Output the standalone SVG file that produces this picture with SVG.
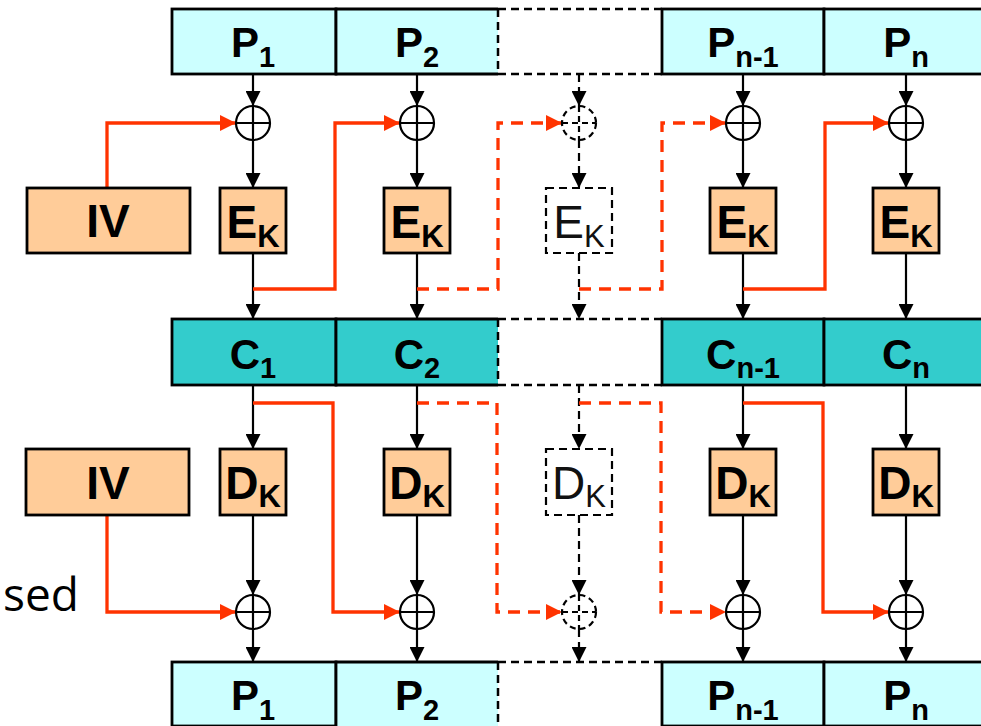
<svg xmlns="http://www.w3.org/2000/svg" width="981" height="726" viewBox="0 0 981 726">
<style>
.p{fill:#CCFFFF;stroke:#000;stroke-width:2.8}
.pf{fill:#CCFFFF;stroke:none}
.c{fill:#33CCCC;stroke:#000;stroke-width:2.8}
.cf{fill:#33CCCC;stroke:none}
.e{fill:#FFCC99;stroke:#000;stroke-width:2.8}
.ed{fill:none;stroke:#000;stroke-width:2.2;stroke-dasharray:8 5}
.edge{fill:none;stroke:#000;stroke-width:2.8}
.edged{fill:none;stroke:#000;stroke-width:2.5;stroke-dasharray:8 5}
.ln{fill:none;stroke:#000;stroke-width:2.2;marker-end:url(#ab)}
.dl{fill:none;stroke:#000;stroke-width:2.2;stroke-dasharray:8 5;marker-end:url(#ab)}
.r{fill:none;stroke:#FF3300;stroke-width:3.3;marker-end:url(#ar)}
.rd{fill:none;stroke:#FF3300;stroke-width:3.3;stroke-dasharray:12 8;marker-end:url(#ar)}
.x{fill:#fff;stroke:#000;stroke-width:2.2}
.xl{fill:none;stroke:#000;stroke-width:2.2}
.xd{fill:#fff;stroke:#000;stroke-width:2.2;stroke-dasharray:6 4}
.t{font-family:"Liberation Sans",Arial,sans-serif;font-weight:bold;text-anchor:middle;fill:#000}
.tn{font-family:"Liberation Sans",Arial,sans-serif;font-weight:normal;text-anchor:middle;fill:#111}
.big{font-size:42px}
.blk{font-size:46px}
</style>
<defs>
<marker id="ab" markerUnits="userSpaceOnUse" markerWidth="15" markerHeight="15" viewBox="0 0 15 15" refX="15" refY="7.5" orient="auto"><path d="M0,0 L15,7.5 L0,15 z" fill="#000"/></marker>
<marker id="ar" markerUnits="userSpaceOnUse" markerWidth="16" markerHeight="16" viewBox="0 0 16 16" refX="16" refY="8" orient="auto"><path d="M0,0 L16,8 L0,16 z" fill="#FF3300"/></marker>
</defs>

<g id="connectors">
<!-- black verticals, top half -->
<path class="ln" d="M253,74 V106"/><path class="ln" d="M417,74 V106"/><path class="ln" d="M743,74 V106"/><path class="ln" d="M906,74 V106"/>
<path class="ln" d="M253,140 V188"/><path class="ln" d="M417,140 V188"/><path class="ln" d="M743,140 V188"/><path class="ln" d="M906,140 V188"/>
<path class="ln" d="M253,253 V319"/><path class="ln" d="M417,253 V319"/><path class="ln" d="M743,253 V319"/><path class="ln" d="M906,253 V319"/>
<path class="dl" d="M579,74 V106"/>
<path class="dl" d="M579,140 V188"/>
<path class="dl" d="M579,253 V319"/>
<!-- black verticals, bottom half -->
<path class="ln" d="M253,385 V449"/><path class="ln" d="M417,385 V449"/><path class="ln" d="M743,385 V449"/><path class="ln" d="M906,385 V449"/>
<path class="ln" d="M253,515 V595"/><path class="ln" d="M417,515 V595"/><path class="ln" d="M743,515 V595"/><path class="ln" d="M906,515 V595"/>
<path class="ln" d="M253,629 V662"/><path class="ln" d="M417,629 V662"/><path class="ln" d="M743,629 V662"/><path class="ln" d="M906,629 V662"/>
<path class="dl" d="M579,385 V449"/>
<path class="dl" d="M579,515 V595"/>
<path class="dl" d="M579,629 V662"/>
<!-- red, top half -->
<path class="r" d="M107,188 V123 H236"/>
<path class="r" d="M253,289 H335 V123 H400"/>
<path class="rd" d="M417,289 H498 V123 H562"/>
<path class="rd" d="M579,289 H662 V123 H726"/>
<path class="r" d="M743,289 H825 V123 H889"/>
<!-- red, bottom half -->
<path class="r" d="M107,515 V612 H236"/>
<path class="r" d="M253,403 H333 V612 H400"/>
<path class="rd" d="M417,403 H497 V612 H562"/>
<path class="rd" d="M579,403 H661 V612 H726"/>
<path class="r" d="M743,403 H823 V612 H889"/>
</g>

<!-- top plaintext row -->
<g id="P1_top"><rect class="p" x="172" y="9" width="164" height="65"/><text class="t big" x="253" y="57">P<tspan font-size="29" dy="10">1</tspan></text></g>
<g id="P2_top"><rect class="pf" x="336" y="9" width="162" height="65"/><path class="edge" d="M498,9 H336 V74 H498"/><path class="edged" d="M498,9 V74"/><text class="t big" x="417" y="57">P<tspan font-size="29" dy="10">2</tspan></text></g>
<g id="gap_top"><path class="edged" d="M498,9 H662 M498,74 H662"/></g>
<g id="Pn1_top"><rect class="p" x="662" y="9" width="162" height="65"/><text class="t big" x="743" y="57">P<tspan font-size="29" dy="10">n-1</tspan></text></g>
<g id="Pn_top"><rect class="p" x="824" y="9" width="170" height="65"/><text class="t big" x="906" y="57">P<tspan font-size="29" dy="10">n</tspan></text></g>

<!-- top XORs -->
<g id="xor_e1"><circle class="x" cx="253" cy="123" r="17"/><path class="xl" d="M236,123 H270 M253,106 V140"/></g>
<g id="xor_e2"><circle class="x" cx="417" cy="123" r="17"/><path class="xl" d="M400,123 H434 M417,106 V140"/></g>
<g id="xor_e3"><circle class="xd" cx="579" cy="123" r="17"/><path class="xd" d="M562,123 H596 M579,106 V140"/></g>
<g id="xor_e4"><circle class="x" cx="743" cy="123" r="17"/><path class="xl" d="M726,123 H760 M743,106 V140"/></g>
<g id="xor_e5"><circle class="x" cx="906" cy="123" r="17"/><path class="xl" d="M889,123 H923 M906,106 V140"/></g>

<!-- encryption blocks -->
<g id="IV_top"><rect class="e" x="27" y="188" width="163" height="65"/><text class="t blk" x="108" y="237">IV</text></g>
<g id="E1"><rect class="e" x="220" y="188" width="66" height="65"/><text class="t blk" x="253" y="238">E<tspan font-size="31" dy="9">K</tspan></text></g>
<g id="E2"><rect class="e" x="384" y="188" width="66" height="65"/><text class="t blk" x="417" y="238">E<tspan font-size="31" dy="9">K</tspan></text></g>
<g id="E3"><rect class="ed" x="546" y="188" width="66" height="65"/><text class="tn blk" x="579" y="238">E<tspan font-size="31" dy="9">K</tspan></text></g>
<g id="E4"><rect class="e" x="710" y="188" width="66" height="65"/><text class="t blk" x="743" y="238">E<tspan font-size="31" dy="9">K</tspan></text></g>
<g id="E5"><rect class="e" x="873" y="188" width="66" height="65"/><text class="t blk" x="906" y="238">E<tspan font-size="31" dy="9">K</tspan></text></g>

<!-- ciphertext row -->
<g id="C1"><rect class="c" x="172" y="319" width="164" height="66"/><text class="t big" x="253" y="369">C<tspan font-size="29" dy="9">1</tspan></text></g>
<g id="C2"><rect class="cf" x="336" y="319" width="162" height="66"/><path class="edge" d="M498,319 H336 V385 H498"/><path class="edged" d="M498,319 V385"/><text class="t big" x="417" y="369">C<tspan font-size="29" dy="9">2</tspan></text></g>
<g id="gap_c"><path class="edged" d="M498,319 H662 M498,385 H662"/></g>
<g id="Cn1"><rect class="c" x="662" y="319" width="162" height="66"/><text class="t big" x="743" y="369">C<tspan font-size="29" dy="9">n-1</tspan></text></g>
<g id="Cn"><rect class="c" x="824" y="319" width="170" height="66"/><text class="t big" x="906" y="369">C<tspan font-size="29" dy="9">n</tspan></text></g>

<!-- decryption blocks -->
<g id="IV_bot"><rect class="e" x="26" y="449" width="163" height="66"/><text class="t blk" x="108" y="499">IV</text></g>
<g id="D1"><rect class="e" x="220" y="449" width="66" height="66"/><text class="t blk" x="253" y="499">D<tspan font-size="31" dy="8">K</tspan></text></g>
<g id="D2"><rect class="e" x="384" y="449" width="66" height="66"/><text class="t blk" x="417" y="499">D<tspan font-size="31" dy="8">K</tspan></text></g>
<g id="D3"><rect class="ed" x="546" y="449" width="66" height="66"/><text class="tn blk" x="579" y="499">D<tspan font-size="31" dy="8">K</tspan></text></g>
<g id="D4"><rect class="e" x="710" y="449" width="66" height="66"/><text class="t blk" x="743" y="499">D<tspan font-size="31" dy="8">K</tspan></text></g>
<g id="D5"><rect class="e" x="873" y="449" width="66" height="66"/><text class="t blk" x="906" y="499">D<tspan font-size="31" dy="8">K</tspan></text></g>

<!-- bottom XORs -->
<g id="xor_d1"><circle class="x" cx="253" cy="612" r="17"/><path class="xl" d="M236,612 H270 M253,595 V629"/></g>
<g id="xor_d2"><circle class="x" cx="417" cy="612" r="17"/><path class="xl" d="M400,612 H434 M417,595 V629"/></g>
<g id="xor_d3"><circle class="xd" cx="579" cy="612" r="17"/><path class="xd" d="M562,612 H596 M579,595 V629"/></g>
<g id="xor_d4"><circle class="x" cx="743" cy="612" r="17"/><path class="xl" d="M726,612 H760 M743,595 V629"/></g>
<g id="xor_d5"><circle class="x" cx="906" cy="612" r="17"/><path class="xl" d="M889,612 H923 M906,595 V629"/></g>

<!-- bottom plaintext row -->
<g id="P1_bot"><rect class="p" x="172" y="662" width="164" height="64"/><text class="t big" x="253" y="710">P<tspan font-size="29" dy="10">1</tspan></text></g>
<g id="P2_bot"><rect class="pf" x="336" y="662" width="162" height="64"/><path class="edge" d="M498,662 H336 V726"/><path class="edged" d="M498,662 V726"/><text class="t big" x="417" y="710">P<tspan font-size="29" dy="10">2</tspan></text></g>
<g id="gap_bot"><path class="edged" d="M498,662 H662"/></g>
<g id="Pn1_bot"><rect class="p" x="662" y="662" width="162" height="64"/><text class="t big" x="743" y="710">P<tspan font-size="29" dy="10">n-1</tspan></text></g>
<g id="Pn_bot"><rect class="p" x="824" y="662" width="170" height="64"/><text class="t big" x="906" y="710">P<tspan font-size="29" dy="10">n</tspan></text></g>

<text x="3" y="611" font-family="Open Sans, sans-serif" font-size="46" fill="#000">sed</text>
</svg>
